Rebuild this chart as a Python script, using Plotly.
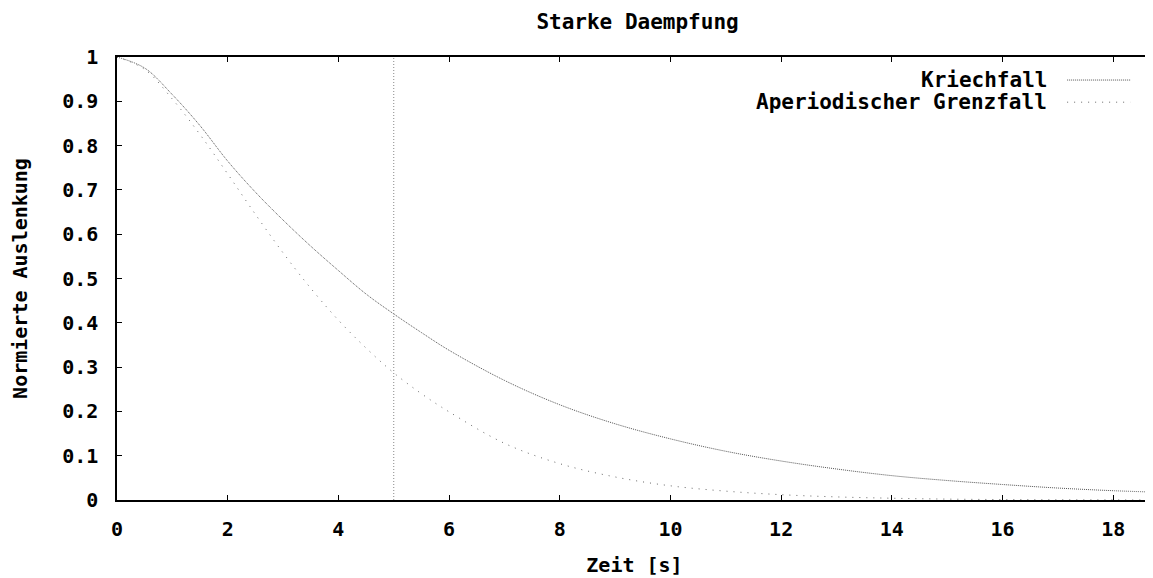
import plotly.graph_objects as go

# --- data ---
zeit = [0, 0.5, 1, 1.5, 2, 2.5, 3, 3.5, 4, 4.5, 5, 5.5, 6, 7, 8, 9, 10, 11, 12,
        13, 14, 15, 16, 17, 18, 18.7]
kriechfall = [1.0, 0.975, 0.915, 0.845, 0.765, 0.695, 0.632, 0.573, 0.518, 0.465,
              0.42, 0.378, 0.338, 0.27, 0.215, 0.172, 0.138, 0.11, 0.088, 0.07,
              0.055, 0.044, 0.035, 0.027, 0.021, 0.018]
grenzfall = [1.0, 0.972, 0.905, 0.825, 0.736, 0.645, 0.558, 0.478, 0.406, 0.343,
             0.287, 0.24, 0.199, 0.128, 0.082, 0.052, 0.032, 0.02, 0.012, 0.007,
             0.004, 0.002, 0.001, 0.0005, 0.0003, 0.0002]
marker_t = 5
x_ticks = [0, 2, 4, 6, 8, 10, 12, 14, 16, 18]
y_ticks = [0, 0.1, 0.2, 0.3, 0.4, 0.5, 0.6, 0.7, 0.8, 0.9, 1]
y_ticklabels = ["0", "0.1", "0.2", "0.3", "0.4", "0.5", "0.6", "0.7", "0.8", "0.9", "1"]
legend_names = ["Kriechfall", "Aperiodischer Grenzfall"]

FONT = "DejaVu Sans Mono"
FS = 20
c1 = "#555555"
c2 = "#666666"
dash1 = "1px,1px"
dash2 = "1px,6px"

fig = go.Figure()
fig.add_trace(go.Scatter(x=zeit, y=kriechfall, mode="lines", name=legend_names[0],
                         line=dict(color=c1, width=1, dash=dash1, shape="spline"),
                         showlegend=False))
fig.add_trace(go.Scatter(x=zeit, y=grenzfall, mode="lines", name=legend_names[1],
                         line=dict(color=c2, width=1, dash=dash2, shape="spline"),
                         showlegend=False))
fig.add_trace(go.Scatter(x=[marker_t, marker_t], y=[0, 1], mode="lines",
                         line=dict(color="#888888", width=1, dash="1px,2px"),
                         showlegend=False, hoverinfo="skip"))

# manual gnuplot-style legend (text, then sample to the right)
for i, (name, col, dsh) in enumerate(zip(legend_names, [c1, c2], [dash1, dash2])):
    yy = 0.948 - i * 0.05
    fig.add_annotation(xref="paper", yref="paper", x=0.900, y=yy, text=name,
                       showarrow=False, xanchor="right", yanchor="middle",
                       font=dict(family=FONT, size=21, color="black", weight="bold"))
    fig.add_shape(type="line", xref="paper", yref="paper", x0=0.918, x1=0.979,
                  y0=yy, y1=yy, line=dict(color=col, width=1, dash=dsh))

axis_common = dict(showline=True, linecolor="black", linewidth=1.5, mirror="allticks",
                   ticks="inside", ticklen=5, tickcolor="black", tickwidth=1,
                   showgrid=False, zeroline=False, automargin=False,
                   tickfont=dict(family=FONT, size=FS, color="black", weight="bold"))

# the page body adds an 8px offset, compensated in the margins
fig.update_layout(
    width=1153, height=578,
    margin=dict(l=109, r=9, t=49, b=86),
    paper_bgcolor="white", plot_bgcolor="white",
    title=dict(text="Starke Daempfung", x=0.546, xanchor="center", y=0.976,
               yanchor="middle",
               font=dict(family=FONT, size=21, color="black", weight="bold")),
    xaxis=dict(range=[0, 18.7], tickvals=x_ticks,
               title=dict(text="Zeit [s]", standoff=18,
                          font=dict(family=FONT, size=FS, color="black", weight="bold")),
               ticklabelstandoff=10, **axis_common),
    yaxis=dict(range=[0, 1], tickvals=y_ticks, ticktext=y_ticklabels,
               title=dict(text="Normierte Auslenkung", standoff=40,
                          font=dict(family=FONT, size=FS, color="black", weight="bold")),
               ticklabelstandoff=13, **axis_common),
)

fig.write_html("out.html")
